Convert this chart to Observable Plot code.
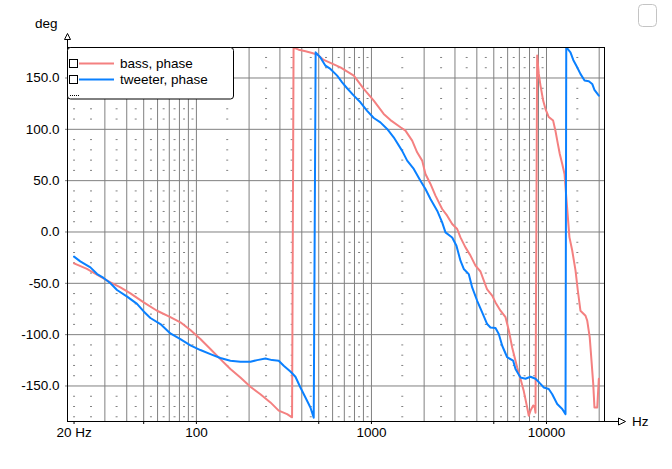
<!DOCTYPE html>
<html><head><meta charset="utf-8">
<script src="https://cdn.jsdelivr.net/npm/d3@7"></script>
<script src="https://cdn.jsdelivr.net/npm/@observablehq/plot@0.6"></script>
<style>
html,body{margin:0;padding:0;background:#fff;}
#chart{position:relative;width:672px;height:469px;}
</style></head><body><div id="chart"></div>
<script>
// ---- data (frequency in Hz, phase in degrees) ----
const bassPhase = [[20,-30.6],[23.7,-36],[28.3,-43.6],[32.3,-49],[36.8,-54],[42,-59.8],[50,-68.6],[59.6,-76.7],[71,-83],[81,-88],[92.4,-95.5],[105.4,-104.3],[120.2,-114],[137.1,-123.8],[156.4,-133.5],[178.4,-141.7],[203.5,-150.8],[232.1,-158],[264.8,-166],[295.3,-174],[329.8,-177.4],[352,-180.5],[359,179.6],[384,177.6],[420,176],[458,174.4],[490,172.8],[534,167.6],[665,160.4],[793,152.3],[904,139.4],[1031,128],[1175,115],[1284,109],[1465,102],[1564,98.7],[1709,89],[1824,77.6],[1949,69.5],[2035,56.5],[2174,46.8],[2321,35.4],[2535,22.4],[2708,15.9],[2892,7.8],[3089,2.9],[3225,-5.3],[3444,-15],[3679,-23],[3929,-32.8],[4197,-38.5],[4423,-49],[4581,-56],[4895,-62],[5112,-68.6],[5460,-76.7],[5834,-83],[6093,-96],[6368,-112.5],[6802,-132],[7103,-143],[7418,-155],[7757,-171],[7924,-179],[8103,-174],[8396,-169],[8577,-171],[8653,-176],[8846,171.8],[9036,154],[9244,142.6],[9571,128],[9863,120],[10303,112],[10914,108.5],[11246,98.7],[11614,85.8],[11912,76],[12303,66.3],[12677,56.5],[13100,25],[13521,-5],[14028,-18],[14655,-37.7],[15101,-57],[15631,-76.7],[16711,-81.6],[17099,-86.5],[17660,-102.7],[18072,-125],[18493,-148],[18793,-171],[19498,-171],[19907,-143]];
const tweeterPhase = [[20,-24],[21.7,-28.6],[24.8,-34.5],[27.1,-41],[29.5,-44.8],[32.3,-50],[35.2,-56.5],[40.2,-63],[45.8,-70],[50,-77.4],[54.6,-83.8],[62.3,-89.7],[71,-98.8],[81,-104.3],[92.4,-110.5],[105.4,-115],[120.2,-119],[137.1,-122.8],[156.4,-125.4],[178.4,-126.4],[203.5,-126.4],[222.3,-124.8],[248,-123.2],[270.8,-124.8],[295.3,-125.4],[315.4,-130.3],[344.4,-135.9],[367.9,-141],[392.9,-151.5],[419.7,-161.2],[448.2,-171],[468,-181],[480,175],[511,170],[546,162],[583,158.8],[637,152.3],[680,145.8],[726,140],[793,132.8],[865,126.3],[945,118],[1031,111],[1125,106.8],[1229,100.4],[1340,92.2],[1498,79],[1600,69.5],[1745,61.4],[1905,50],[2035,41.9],[2174,32.2],[2374,20.8],[2535,9.4],[2648,-0.4],[2892,-5.3],[3059,-13.4],[3225,-28],[3369,-36],[3597,-41],[3762,-54],[4018,-67],[4291,-78.4],[4581,-89.7],[4786,-93],[5114,-93.6],[5339,-99.4],[5585,-110.8],[5961,-122],[6450,-125.4],[6653,-133.5],[7103,-141.7],[7586,-143],[8103,-141],[8653,-143],[9244,-148],[9656,-151.5],[10303,-153],[10786,-158],[11514,-167.6],[12303,-172.5],[12846,-177.4],[12970,180],[13709,175],[14223,167.6],[14970,160.4],[15631,154],[16497,147.5],[17458,146.8],[18250,144.2],[18793,138.4],[19907,132.8]];
const seriesNames = ["bass, phase", "tweeter, phase"];
const xTickValues = [20, 50, 100, 500, 1000, 5000, 10000];
const xTickLabels = ["20 Hz", "50", "100", "500", "1000", "5000", "10000"];
const yTickValues = [-150, -100, -50, 0, 50, 100, 150];
const yTickLabels = ["-150.0", "-100.0", "-50.0", "0.0", "50.0", "100.0", "150.0"];
const xGridMajor = [30,40,50,60,70,80,90,100,200,300,400,500,600,700,800,900,1000,2000,3000,4000,5000,6000,7000,8000,9000,10000,20000];
const xGridMinor = [20,25,35,45,55,65,75,85,95,150,250,350,450,550,650,750,850,950,1500,2500,3500,4500,5500,6500,7500,8500,9500,15000];
const yGridMinor = [-180,-170,-160,-140,-130,-120,-110,-90,-80,-70,-60,-40,-30,-20,-10,10,20,30,40,60,70,80,90,110,120,130,140,160,170];
const xUnit = "Hz", yUnit = "deg";

// ---- build ----
const BASS = "#f48080", TWEET = "#0a80ff", GRID = "#808080";
const bass = bassPhase.map(([f, d]) => ({f, d}));
const tweeter = tweeterPhase.map(([f, d]) => ({f, d}));
const dashes = xGridMinor.flatMap(x => yGridMinor.map(y => ({x, y})));
const xLab = new Map(xTickValues.map((v, i) => [v, xTickLabels[i]]));
const yLab = new Map(yTickValues.map((v, i) => [v, yTickLabels[i]]));
const dashSym = {draw(ctx) { ctx.rect(-1, -0.5, 2, 1); }};
const FONT = "'Liberation Sans', Arial, sans-serif";

const plot = Plot.plot({
  width: 672, height: 469,
  marginLeft: 67, marginRight: 68, marginTop: 47, marginBottom: 48,
  style: {fontFamily: FONT, fontSize: "13.5px", background: "#fff", color: "#000", overflow: "visible"},
  x: {type: "log", domain: [18.35, 21450]},
  y: {domain: [-184.6, 179.7]},
  marks: [
    Plot.ruleX(xGridMajor, {stroke: GRID, strokeWidth: 1}),
    Plot.ruleY(yTickValues, {stroke: GRID, strokeWidth: 1}),
    Plot.dot(dashes, {x: "x", y: "y", symbol: dashSym, fill: GRID, stroke: null, r: 2}),
    Plot.axisX(xTickValues, {tickFormat: d => xLab.get(d), tickSize: 3, tickPadding: 3, stroke: "#000", label: null, fontSize: 13.5}),
    Plot.axisY(yTickValues, {tickFormat: d => yLab.get(d), tickSize: 2, tickPadding: 6, stroke: GRID, label: null, fontSize: 13.5}),
    Plot.line(bass, {x: "f", y: "d", stroke: BASS, strokeWidth: 2, clip: true}),
    Plot.line(tweeter, {x: "f", y: "d", stroke: TWEET, strokeWidth: 2, clip: true}),
    Plot.frame({stroke: "#000"})
  ]
});
document.getElementById("chart").appendChild(plot);

// ---- decorations: axis arrows, unit labels, legend ----
const svg = d3.select(plot);
const [x0, x1] = plot.scale("x").range;
const [yb, yt] = plot.scale("y").range;
const L = Math.round(x0) + 0.5, B = Math.round(yb) + 0.5, T = Math.round(yt) + 0.5;
const g = svg.append("g").attr("font-family", FONT).attr("font-size", 13.5).attr("text-anchor", "start");
// y arrow
g.append("line").attr("x1", L).attr("x2", L).attr("y1", T).attr("y2", 39.5).attr("stroke", "#000");
g.append("path").attr("d", `M${L},33.5L${L - 3},39.5L${L + 3},39.5Z`).attr("fill", "#fff").attr("stroke", "#000");
// x arrow
const R = Math.round(x1) + 0.5;
g.append("line").attr("x1", R).attr("x2", 618.5).attr("y1", B).attr("y2", B).attr("stroke", "#000");
g.append("path").attr("d", `M625.5,${B}L618.5,${B - 3.5}L618.5,${B + 3.5}Z`).attr("fill", "#fff").attr("stroke", "#000");
g.append("text").attr("x", 35).attr("y", 28).attr("text-anchor", "start").text(yUnit);
g.append("text").attr("x", 632).attr("y", 426).attr("text-anchor", "start").text(xUnit);
// legend
const lg = g.append("g");
lg.append("rect").attr("x", 67.5).attr("y", 47.5).attr("width", 166).attr("height", 51.5).attr("rx", 3)
  .attr("fill", "#fff").attr("stroke", "#000");
[[BASS, 63.5], [TWEET, 79.5]].forEach(([c, y], i) => {
  lg.append("rect").attr("x", 69.5).attr("y", y - 4).attr("width", 8).attr("height", 8).attr("fill", "#fff").attr("stroke", "#000");
  lg.append("line").attr("x1", 79).attr("x2", 114).attr("y1", y).attr("y2", y).attr("stroke", c).attr("stroke-width", 2);
  lg.append("text").attr("x", 120).attr("y", y + 4.5).attr("text-anchor", "start").text(seriesNames[i]);
});
lg.append("line").attr("x1", 70).attr("x2", 80).attr("y1", 95.5).attr("y2", 95.5).attr("stroke", "#000").attr("stroke-dasharray", "1,1");
// top-right checkbox
g.append("rect").attr("x", 638.5).attr("y", 4.5).attr("width", 18).attr("height", 22).attr("rx", 4)
  .attr("fill", "none").attr("stroke", "#c4c4c4");
</script>
</body></html>
